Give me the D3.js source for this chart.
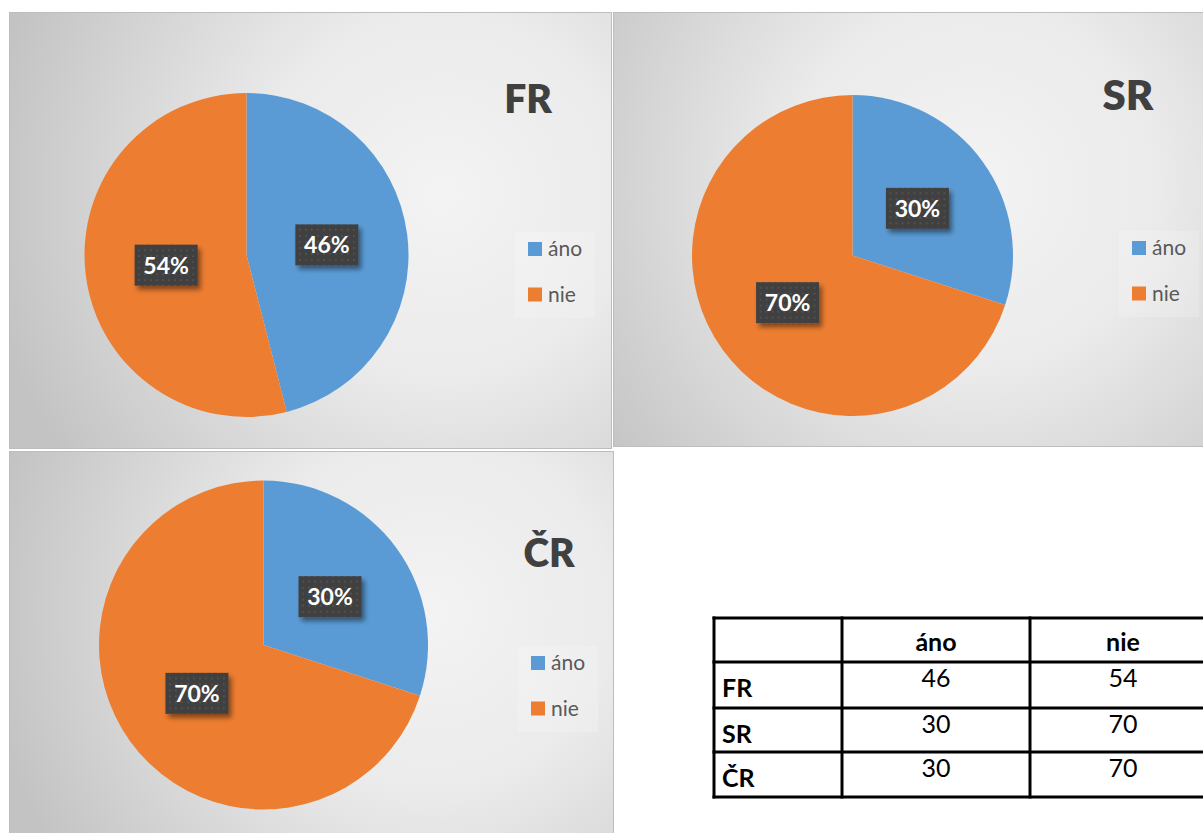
<!DOCTYPE html>
<html>
<head>
<meta charset="utf-8">
<script src="https://cdn.jsdelivr.net/npm/d3@7"></script>
<style>
  html, body { margin: 0; padding: 0; background: #ffffff; }
  svg { display: block; font-family: Lato, "Open Sans", sans-serif; }
</style>
</head>
<body>
<svg id="chart" width="1203" height="833"></svg>
<script>
// Survey answers per country (percent)
const regions = ["FR", "SR", "ČR"];
const answers = ["áno", "nie"];
const yesValues = [46, 30, 30];
const noValues = [54, 70, 70];

const colors = ["#5b9bd5", "#ed7d31"];

// Layout of the three chart panels
const panels = [
  { x: 9,   y: 12,  w: 602, h: 436, cx: 246.5, cy: 255, r: 162,
    title: { x: 528, y: 113, size: 39 }, legend: { x: 528, y: 242, box: [515, 232, 80, 86] }, grad: [0.72, 0.42] },
  { x: 613, y: 12,  w: 600, h: 434, cx: 852.5, cy: 255.5, r: 160.5,
    title: { x: 1128, y: 110, size: 42 }, legend: { x: 1132, y: 241, box: [1119, 231, 80, 86] }, grad: [0.6, 0.4] },
  { x: 9,   y: 451, w: 604, h: 400, cx: 263.5, cy: 645, r: 164.5,
    title: { x: 549, y: 567, size: 39 }, legend: { x: 531, y: 656, box: [518, 646, 80, 86] }, grad: [0.7, 0.4] }
];

const svg = d3.select("#chart");
const defs = svg.append("defs");

// Dotted fill for the data label boxes
const pat = defs.append("pattern")
  .attr("id", "dots").attr("patternUnits", "userSpaceOnUse")
  .attr("width", 6).attr("height", 6);
pat.append("rect").attr("width", 6).attr("height", 6).attr("fill", "#3f3f3f");
pat.append("rect").attr("x", 2).attr("y", 2).attr("width", 2).attr("height", 2).attr("fill", "#515151");

const shadow = defs.append("filter").attr("id", "shadow")
  .attr("x", "-30%").attr("y", "-30%").attr("width", "170%").attr("height", "180%");
shadow.append("feDropShadow")
  .attr("dx", 3).attr("dy", 4).attr("stdDeviation", 2.5)
  .attr("flood-color", "#000").attr("flood-opacity", 0.45);

const pie = d3.pie().sort(null).value(d => d.value);

panels.forEach((p, i) => {
  const gid = "bg" + i;
  const grad = defs.append("radialGradient").attr("id", gid)
    .attr("gradientUnits", "userSpaceOnUse")
    .attr("cx", p.x + p.w * p.grad[0]).attr("cy", p.y + p.h * p.grad[1])
    .attr("r", Math.hypot(p.w, p.h) * 0.62);
  grad.append("stop").attr("offset", "0%").attr("stop-color", "#f3f3f3");
  grad.append("stop").attr("offset", "40%").attr("stop-color", "#ebebeb");
  grad.append("stop").attr("offset", "100%").attr("stop-color", "#c3c3c3");

  const g = svg.append("g");
  g.append("rect")
    .attr("x", p.x + 0.5).attr("y", p.y + 0.5)
    .attr("width", p.w).attr("height", p.h)
    .attr("fill", `url(#${gid})`)
    .attr("stroke", "#bdbdbd").attr("stroke-width", 1);

  const data = answers.map((a, k) => ({ key: a, value: k === 0 ? yesValues[i] : noValues[i] }));
  const total = d3.sum(data, d => d.value);
  const arcs = pie(data);
  const arc = d3.arc().innerRadius(0).outerRadius(p.r);

  const pg = g.append("g").attr("transform", `translate(${p.cx},${p.cy})`);
  pg.selectAll("path.slice").data(arcs).join("path")
    .attr("class", "slice")
    .attr("d", arc)
    .attr("fill", (d, k) => colors[k]);

  // Data labels: dark boxes at the slice centroids
  const lab = pg.selectAll("g.lab").data(arcs).join("g")
    .attr("class", "lab")
    .attr("transform", d => { const c = arc.centroid(d); return `translate(${c[0]},${c[1]})`; });
  lab.append("rect")
    .attr("x", -31.5).attr("y", -20.5).attr("width", 63).attr("height", 41)
    .attr("fill", "url(#dots)")
    .attr("filter", "url(#shadow)");
  lab.append("text")
    .attr("text-anchor", "middle").attr("y", 8.5)
    .attr("fill", "#ffffff").attr("font-weight", 700).attr("font-size", 23)
    .text(d => Math.round(d.data.value / total * 100) + "%");

  // Title
  g.append("text")
    .attr("x", p.title.x).attr("y", p.title.y)
    .attr("text-anchor", "middle")
    .attr("font-size", p.title.size).attr("font-weight", 800)
    .attr("fill", "#404040")
    .text(regions[i]);

  // Legend
  const lb = p.legend.box;
  g.append("rect").attr("x", lb[0]).attr("y", lb[1]).attr("width", lb[2]).attr("height", lb[3])
    .attr("fill", "#ffffff").attr("fill-opacity", 0.18);
  const lg = g.selectAll("g.leg").data(answers).join("g")
    .attr("class", "leg")
    .attr("transform", (d, k) => `translate(${p.legend.x},${p.legend.y + k * 45.5})`);
  lg.append("rect").attr("width", 14).attr("height", 14).attr("fill", (d, k) => colors[k]);
  lg.append("text").attr("x", 20).attr("y", 14)
    .attr("font-size", 21).attr("fill", "#595959")
    .text(d => d);
});

// Summary table
const colX = [714, 842, 1030, 1218];
const rowY = [618, 662, 708, 752, 797];
const colCenters = [936, 1123];
const tg = svg.append("g");
tg.append("rect")
  .attr("x", colX[0]).attr("y", rowY[0])
  .attr("width", colX[3] - colX[0]).attr("height", rowY[4] - rowY[0])
  .attr("fill", "#ffffff");
colX.forEach(x => tg.append("line")
  .attr("x1", x).attr("x2", x).attr("y1", rowY[0] - 1.5).attr("y2", rowY[4] + 1.5)
  .attr("stroke", "#000").attr("stroke-width", 3));
rowY.forEach(y => tg.append("line")
  .attr("x1", colX[0] - 1.5).attr("x2", colX[3]).attr("y1", y).attr("y2", y)
  .attr("stroke", "#000").attr("stroke-width", 3));

answers.forEach((a, k) => {
  tg.append("text")
    .attr("x", colCenters[k]).attr("y", 651)
    .attr("text-anchor", "middle")
    .attr("font-size", 25).attr("font-weight", 700).attr("fill", "#000")
    .text(a);
});
regions.forEach((r, j) => {
  const yTop = rowY[j + 1];
  tg.append("text")
    .attr("x", 722).attr("y", yTop + 35)
    .attr("font-size", 25).attr("font-weight", 700).attr("fill", "#000")
    .text(r);
  [yesValues[j], noValues[j]].forEach((v, k) => {
    tg.append("text")
      .attr("x", colCenters[k]).attr("y", yTop + 25)
      .attr("text-anchor", "middle")
      .attr("font-size", 25).attr("fill", "#000")
      .text(v);
  });
});
</script>
</body>
</html>
